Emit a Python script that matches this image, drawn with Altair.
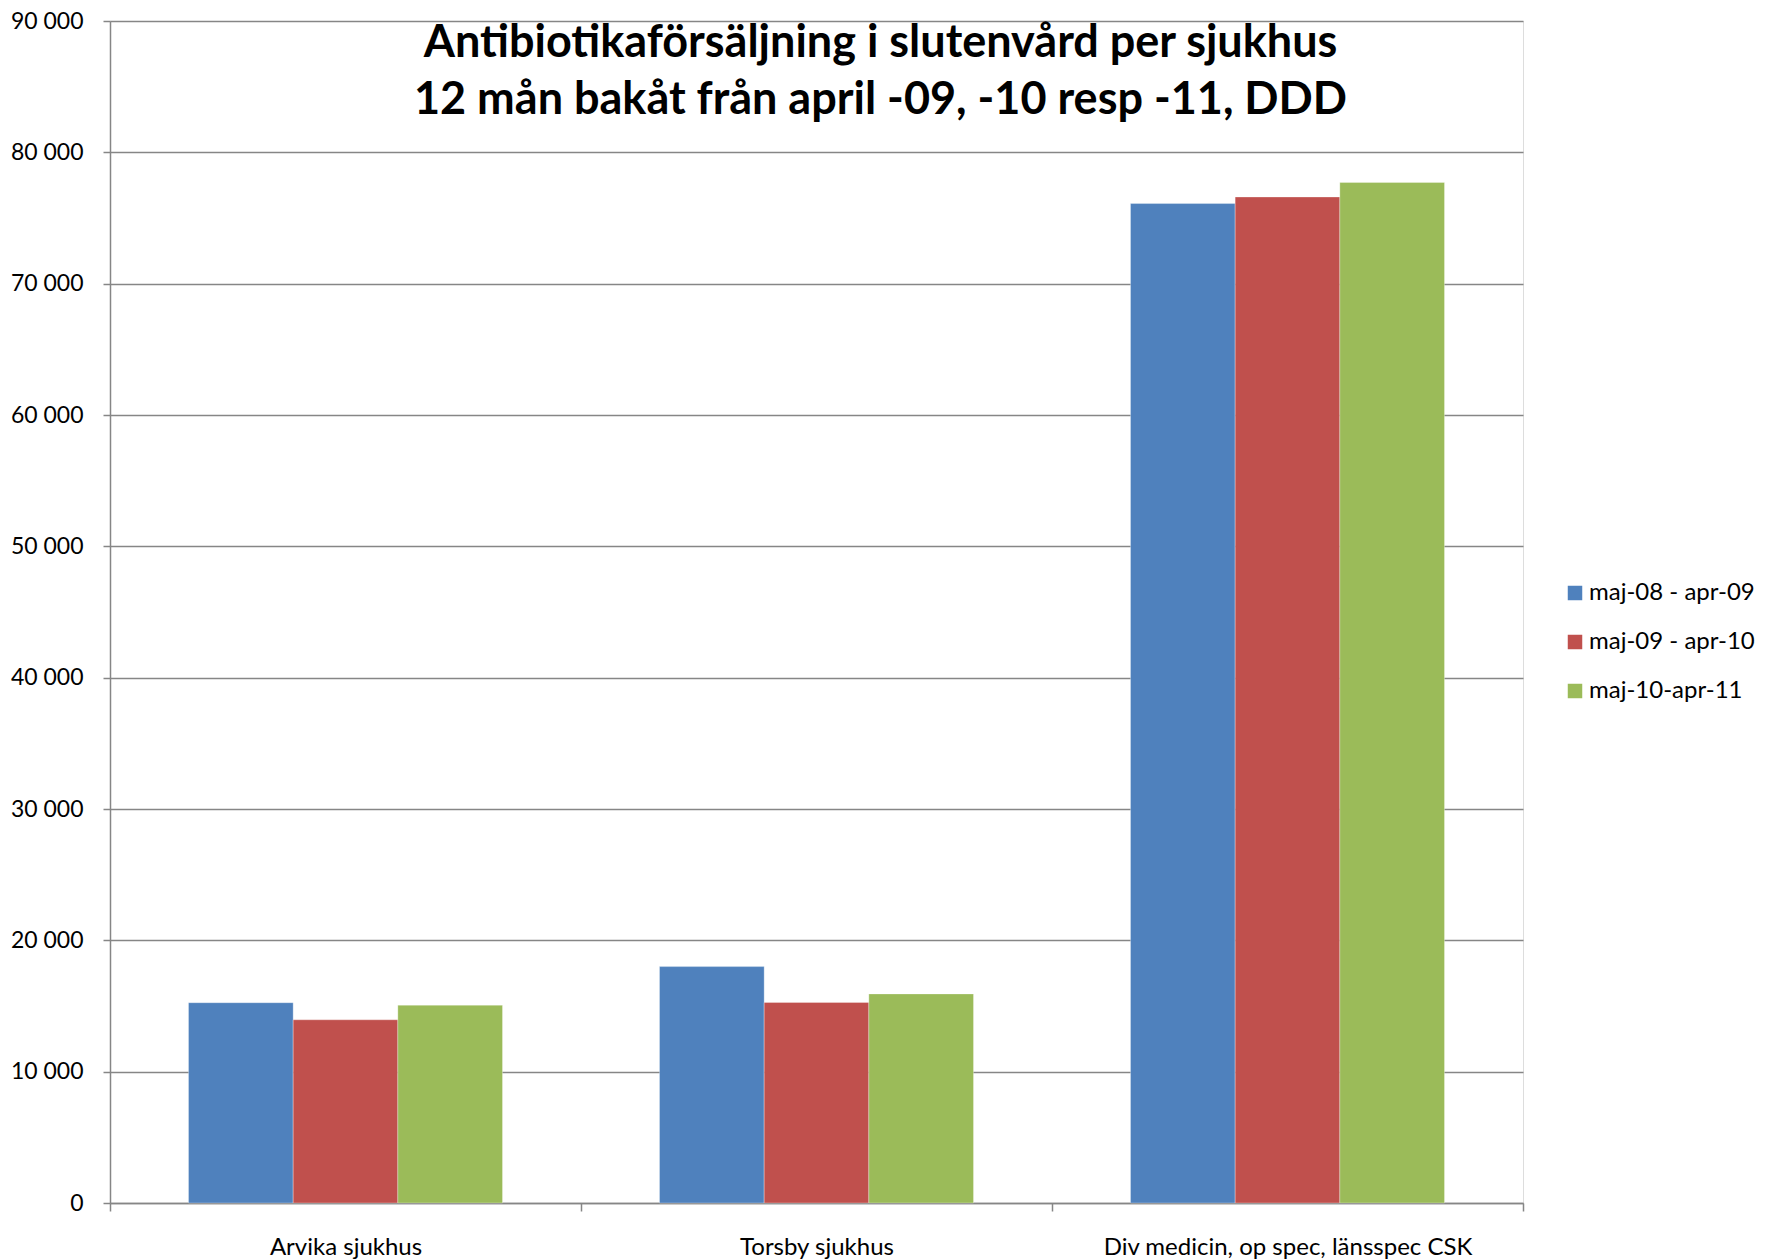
import altair as alt
import pandas as pd

categories = ["Arvika sjukhus", "Torsby sjukhus", "Div medicin, op spec, länsspec CSK"]
series = ["maj-08 - apr-09", "maj-09 - apr-10", "maj-10-apr-11"]
s1 = [15250, 18000, 76100]
s2 = [13950, 15270, 76600]
s3 = [15060, 15920, 77700]
colors = ["#4F81BD", "#C0504D", "#9BBB59"]

rows = []
for ser, vals in zip(series, [s1, s2, s3]):
    for cat, v in zip(categories, vals):
        rows.append({"Sjukhus": cat, "Period": ser, "DDD": v})
df = pd.DataFrame(rows)

FONT = "Lato"
GRID = "#868686"

chart = alt.Chart(df).mark_bar(stroke="#ffffff", strokeWidth=0.6, strokeOpacity=0.5).encode(
    x=alt.X("Sjukhus:N", sort=categories, title=None,
            scale=alt.Scale(paddingInner=0, paddingOuter=0),
            axis=alt.Axis(labelAngle=0, tickBand="extent", tickSize=8, tickColor=GRID,
                          domainColor=GRID, domainWidth=1.5, tickWidth=1.5,
                          labelFont=FONT, labelFontSize=24, labelColor="#000000",
                          labelPadding=24, labelLimit=800, grid=False)),
    xOffset=alt.XOffset("Period:N", sort=series,
                        scale=alt.Scale(paddingInner=0, paddingOuter=0.75)),
    y=alt.Y("DDD:Q", title=None,
            scale=alt.Scale(domain=[0, 90000], nice=False),
            axis=alt.Axis(values=list(range(0, 90001, 10000)),
                          labelExpr="replace(format(datum.value, ','), ',', ' ')",
                          tickSize=7, tickColor=GRID, tickWidth=1.5,
                          domainColor=GRID, domainWidth=1.5,
                          gridColor=GRID, gridWidth=1.5,
                          labelFont=FONT, labelFontSize=23, labelColor="#000000",
                          labelPadding=20)),
    color=alt.Color("Period:N", sort=series,
                    scale=alt.Scale(domain=series, range=colors),
                    legend=alt.Legend(title=None, orient="none", legendX=1453, legendY=560,
                                      symbolType="square", symbolSize=210,
                                      symbolStrokeWidth=0, labelLimit=400,
                                      labelFont=FONT, labelFontSize=24, labelColor="#000000",
                                      labelOffset=2, rowPadding=25)),
).properties(
    width=1413,
    height=1182,
    title=alt.TitleParams(
        text=["Antibiotikaförsäljning i slutenvård per sjukhus",
              "12 mån bakåt från april -09, -10 resp -11, DDD"],
        font=FONT, fontSize=45, fontWeight="bold", color="#000000",
        anchor="middle", orient="top", dx=64, dy=108, offset=-5,
        lineHeight=57,
    ),
    autosize=alt.AutoSizeParams(type="none"),
    padding={"left": 102, "top": 13, "right": 243, "bottom": 57},
).configure_view(stroke=None).configure(background="#ffffff")

chart.save("out.html", embed_options={"renderer": "svg", "actions": False})
